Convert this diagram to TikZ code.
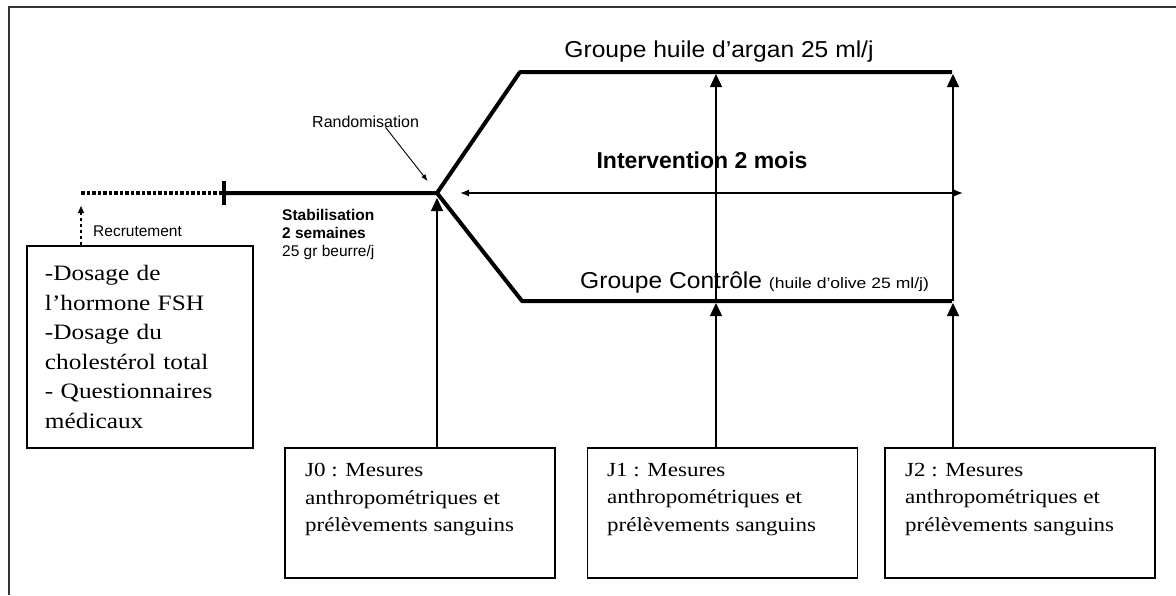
\documentclass[tikz,border=0pt]{standalone}
\usepackage{fontspec}
\setmainfont{Liberation Serif}
\newfontfamily\serx{Liberation Serif}[FakeStretch=1.15]
\newfontfamily\sanx{Liberation Sans}
\newfontfamily\sanw{Liberation Sans}[FakeStretch=1.07]
\newfontfamily\sanww{Liberation Sans}[FakeStretch=1.17]
\usetikzlibrary{arrows.meta}
\tikzset{
  thickline/.style={line width=4pt, line join=round},
  varrow/.style={line width=1.4pt, -{Triangle[length=13pt,width=12pt]}},
  darrow/.style={line width=1.3pt, {Latex[length=9pt,width=7pt]}-{Latex[length=9pt,width=7pt]}},
  box/.style={draw, line width=1.4pt, rectangle, inner sep=0pt},
  jbox/.style={box, minimum width=270pt, minimum height=130pt},
  jtext/.style={anchor=north west, inner sep=0pt, align=left,
    font=\serx\fontsize{20}{27.5}\selectfont},
  small/.style={inner sep=0pt, font=\sanx\fontsize{15.5}{18}\selectfont},
}
\begin{document}
\begin{tikzpicture}[x=1pt,y=-1pt]
\useasboundingbox (0,0) rectangle (1176,595);
% frame
\draw[line width=2pt, black!80] (9,595) -- (9,7) -- (1176,7);

% key points
\coordinate (dotS) at (81,193);
\coordinate (tick) at (224,193);
\coordinate (rand) at (437,193);
\coordinate (upL) at (520,72);
\coordinate (upR) at (952,72);
\coordinate (loL) at (522,301);
\coordinate (loR) at (952,301);
\coordinate (ia) at (460,193);
\coordinate (ib) at (963,193);
\coordinate (j1lo) at (716,301);
\coordinate (j1up) at (716,72);
\coordinate (j2lo) at (953,301);
\coordinate (j2up) at (953,72);

% boxes
\node[box, minimum width=226pt, minimum height=202pt, text width=190pt, align=left,
  font=\serx\fontsize{22}{29.6}\selectfont] (crit) at (140,347)
  {-Dosage de\\ l’hormone FSH\\ -Dosage du\\ cholestérol total\\ - Questionnaires\\ médicaux};
\node[jbox] (J0box) at (420,513) {};
\node[jbox] (J1box) at (722.5,513) {};
\node[jbox] (J2box) at (1020,513) {};
\node[jtext] (J0txt) at (305,463) {J0 : Mesures\\ anthropométriques et\\ prélèvements sanguins};
\node[jtext] (J1txt) at (607,463) {J1 : Mesures\\ anthropométriques et\\ prélèvements sanguins};
\node[jtext] (J2txt) at (905,463) {J2 : Mesures\\ anthropométriques et\\ prélèvements sanguins};

% labels
\node[inner sep=0pt, anchor=base, font=\sanw\fontsize{23}{26}\selectfont] (grpA) at (719,57)
  {Groupe huile d’argan 25 ml/j};
\node[inner sep=0pt, anchor=base west, font=\sanw\fontsize{23}{26}\selectfont] (grpC) at (580,288)
  {Groupe Contrôle {\sanww\fontsize{15}{18}\selectfont (huile d’olive 25 ml/j)}};
\node[inner sep=0pt, anchor=base, font=\sanx\bfseries\fontsize{23}{26}\selectfont] (interv) at (702,168)
  {Intervention 2 mois};
\node[small, anchor=north west, align=left] (stab) at (282,209)
  {\textbf{Stabilisation}\\ \textbf{2 semaines}\\ 25 gr beurre/j};
\node[small, anchor=base west] (recr) at (93,236) {Recrutement};
\node[small, anchor=base west, font=\sanx\fontsize{16}{18}\selectfont] (randl) at (312,127) {Randomisation};

% timeline
\draw[line width=4pt, dash pattern=on 3.5pt off 2pt] (dotS) -- (tick);
\draw[line width=3.4pt] ([yshift=12pt]tick) -- ([yshift=-12pt]tick);
\draw[thickline] (tick) -- (rand) -- (upL) -- (upR);
\draw[thickline] (rand) -- (loL) -- (loR);

% arrows
\draw[darrow] (ia) -- (ib);
\draw[line width=0.9pt, -{Latex[length=7pt,width=5pt]}, shorten >=15pt]
  ([xshift=20pt]randl.south) -- (rand);
\draw[line width=1.2pt, dash pattern=on 3pt off 3pt, -{Triangle[length=7pt,width=6pt]}, shorten >=13pt]
  (crit.north -| dotS) -- (dotS);
\draw[varrow, shorten >=5pt] (J0box.north -| rand) -- (rand);
\draw[varrow, shorten >=2pt] (J1box.north -| j1lo) -- (j1lo);
\draw[varrow, shorten >=2pt] (j1lo) -- (j1up);
\draw[varrow, shorten >=2pt] (J2box.north -| j2lo) -- (j2lo);
\draw[varrow, shorten >=2pt] (j2lo) -- (j2up);
\end{tikzpicture}
\end{document}
